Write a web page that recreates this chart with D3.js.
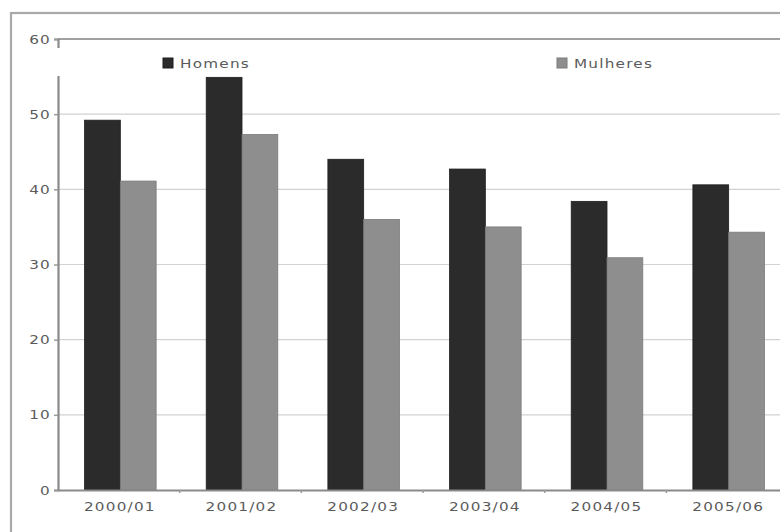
<!DOCTYPE html>
<html>
<head>
<meta charset="utf-8">
<script src="https://cdn.jsdelivr.net/npm/d3@7"></script>
<style>
  html, body { margin: 0; padding: 0; background: #fff; }
  svg { display: block; }
  text { font-family: "DejaVu Sans", sans-serif; fill: #5a5a5a; }
</style>
</head>
<body>
<svg id="chart" width="780" height="532"></svg>
<script>
// Academic years and the two series (percent)
const categories = ["2000/01", "2001/02", "2002/03", "2003/04", "2004/05", "2005/06"];
const seriesNames = ["Homens", "Mulheres"];
const homens = [49.2, 54.9, 44.0, 42.7, 38.4, 40.6];
const mulheres = [41.1, 47.3, 36.0, 35.0, 30.9, 34.3];
const yTicks = [0, 10, 20, 30, 40, 50, 60];

const colors = { Homens: "#2b2b2b", Mulheres: "#8e8e8e" };
const strokes = { Homens: "#1e1e1e", Mulheres: "#7a7a7a" };

// wide lettering: glyphs stretched horizontally
const stretch = 1.22;
const labelFont = { size: "12.5px", spacing: "1px", fill: "#606060" };

const svg = d3.select("#chart");
const plotLeft = 58, plotTop = 39, plotBottom = 490, plotRight = 788;

const y = d3.scaleLinear().domain([0, 60]).range([plotBottom, plotTop]);
const x = d3.scaleBand().domain(categories).range([plotLeft, plotRight]).paddingInner(0).paddingOuter(0);
const x1 = d3.scaleBand().domain(seriesNames).range([0, x.bandwidth()]).paddingInner(0).paddingOuter(0.7).align(0.53);

function styleLabel(sel) {
  sel.style("font-family", "'DejaVu Sans', sans-serif")
    .style("font-size", labelFont.size)
    .style("letter-spacing", labelFont.spacing)
    .attr("fill", labelFont.fill);
}

// outer frame
svg.append("rect")
  .attr("x", 11).attr("y", 13).attr("width", 800).attr("height", 560)
  .attr("fill", "none").attr("stroke", "#a9a9a9").attr("stroke-width", 2.2);

// horizontal gridlines
svg.append("g").selectAll("line")
  .data(yTicks.filter(d => d > 0))
  .join("line")
  .attr("x1", plotLeft).attr("x2", 790)
  .attr("y1", d => y(d)).attr("y2", d => y(d))
  .attr("stroke", d => d === 60 ? "#a0a0a0" : "#d2d2d2")
  .attr("stroke-width", d => d === 60 ? 2.2 : 1.2);

// y axis
const yAxis = svg.append("g")
  .attr("transform", `translate(${plotLeft},0)`)
  .call(d3.axisLeft(y).tickValues(yTicks).tickSize(4).tickPadding(5));
yAxis.select(".domain").attr("stroke", "#8a8a8a").attr("stroke-width", 2.2);
yAxis.selectAll(".tick line").attr("stroke", "#9a9a9a").attr("stroke-width", 1.5);
yAxis.selectAll(".tick text")
  .call(styleLabel)
  .attr("x", 0)
  .attr("transform", `translate(-7,0) scale(${stretch},1)`);

// legend band (white backing interrupts the axis line)
const legend = svg.append("g");
legend.append("rect")
  .attr("x", plotLeft - 4).attr("y", 48).attr("width", 700).attr("height", 28)
  .attr("fill", "#fff");
const legendItems = [
  { name: "Homens", x: 163 },
  { name: "Mulheres", x: 557 }
];
legendItems.forEach(it => {
  legend.append("rect")
    .attr("x", it.x).attr("y", 58).attr("width", 10).attr("height", 10)
    .attr("fill", colors[it.name]).attr("stroke", strokes[it.name]).attr("stroke-width", 1);
  legend.append("text")
    .attr("transform", `translate(${it.x + 17},68) scale(${stretch},1)`)
    .call(styleLabel)
    .text(it.name);
});

// bars
const rows = categories.map((c, i) => ({ cat: c, Homens: homens[i], Mulheres: mulheres[i] }));
svg.append("g").selectAll("g")
  .data(rows)
  .join("g")
  .attr("transform", d => `translate(${x(d.cat)},0)`)
  .selectAll("rect")
  .data(d => seriesNames.map(s => ({ s, v: d[s] })))
  .join("rect")
  .attr("x", d => x1(d.s))
  .attr("width", x1.bandwidth())
  .attr("y", d => y(d.v))
  .attr("height", d => y(0) - y(d.v))
  .attr("fill", d => colors[d.s])
  .attr("stroke", d => strokes[d.s])
  .attr("stroke-width", 0.8);

// x axis
const xAxis = svg.append("g")
  .attr("transform", `translate(0,${plotBottom})`)
  .call(d3.axisBottom(x).tickSize(0).tickPadding(12));
xAxis.select(".domain").attr("stroke", "#8a8a8a").attr("stroke-width", 2.2);
xAxis.selectAll(".tick text")
  .call(styleLabel)
  .attr("transform", `translate(1,0) scale(${stretch},1)`);

// small marks at category boundaries
svg.append("g").selectAll("line")
  .data(categories.slice(1))
  .join("line")
  .attr("x1", d => x(d)).attr("x2", d => x(d))
  .attr("y1", plotBottom).attr("y2", plotBottom + 3)
  .attr("stroke", "#9a9a9a").attr("stroke-width", 1.5);
</script>
</body>
</html>
